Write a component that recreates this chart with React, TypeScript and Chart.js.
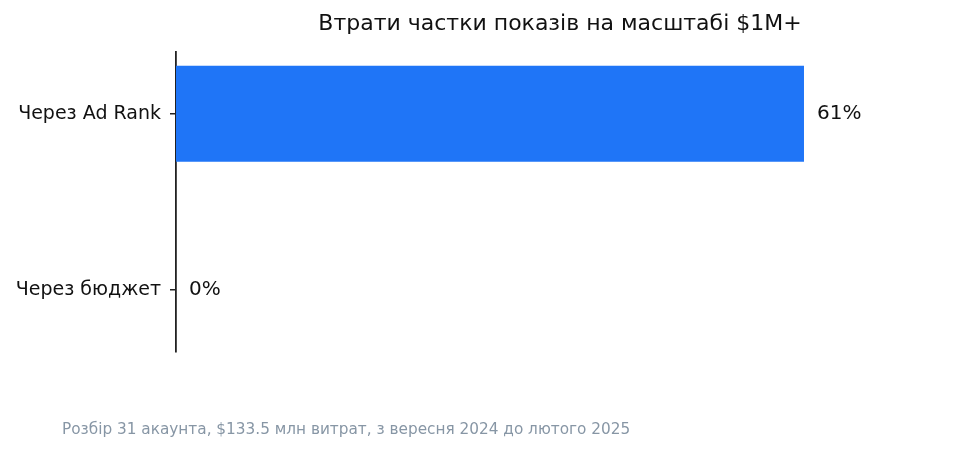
import { useEffect, useRef } from 'react';
import { Chart, registerables } from 'chart.js';

Chart.register(...registerables);

const categories = ['Через Ad Rank', 'Через бюджет'];
const lossShare = [61, 0];
const valueLabels = ['61%', '0%'];
const titleText = 'Втрати частки показів на масштабі $1M+';
const footnoteText = 'Розбір 31 акаунта, $133.5 млн витрат, з вересня 2024 до лютого 2025';

const FONT = '"DejaVu Sans", sans-serif';

const textPlugin = {
  id: 'textPlugin',
  afterDraw(chart: any) {
    const { ctx, chartArea } = chart;
    ctx.save();
    // title over the plot area
    ctx.font = `22px ${FONT}`;
    ctx.fillStyle = '#111111';
    ctx.textAlign = 'center';
    ctx.textBaseline = 'middle';
    ctx.fillText(titleText, (chartArea.left + chartArea.right) / 2, 24);

    // bar value labels
    const meta = chart.getDatasetMeta(0);
    ctx.font = `20px ${FONT}`;
    ctx.textAlign = 'left';
    meta.data.forEach((bar: any, i: number) => {
      ctx.fillText(valueLabels[i], bar.x + 13, bar.y);
    });

    // footnote
    ctx.font = `15.3px ${FONT}`;
    ctx.fillStyle = '#8796a5';
    ctx.fillText(footnoteText, 62, 430);
    ctx.restore();
  },
};

const App = () => {
  const canvasRef = useRef(null as HTMLCanvasElement | null);
  const chartRef = useRef(null as any);

  useEffect(() => {
    if (!canvasRef.current) return;
    const ctx = canvasRef.current.getContext('2d');
    if (!ctx) return;
    if (chartRef.current) chartRef.current.destroy();

    chartRef.current = new Chart(ctx, {
      type: 'bar',
      data: {
        datasets: [{
          data: lossShare.map((v, i) => ({ x: v, y: i })),
          backgroundColor: '#1f75f7',
          borderWidth: 0,
          categoryPercentage: 1,
          barPercentage: 0.545,
        }],
      },
      options: {
        indexAxis: 'y',
        responsive: true,
        maintainAspectRatio: false,
        animation: false,
        layout: { padding: { top: 52, bottom: 101, right: 13, left: 0 } },
        plugins: {
          legend: { display: false },
          tooltip: { enabled: false },
        },
        scales: {
          x: {
            type: 'linear',
            display: false,
            min: 0,
            max: 74.6,
          },
          y: {
            type: 'linear',
            min: -0.35,
            max: 1.35,
            reverse: true,
            offset: false,
            afterBuildTicks: (scale: any) => {
              scale.ticks = categories.map((_, i) => ({ value: i }));
            },
            afterFit: (scale: any) => {
              scale.width = 176;
            },
            grid: {
              offset: false,
              drawOnChartArea: false,
              drawTicks: true,
              tickLength: 6,
              color: '#222222',
              lineWidth: 1.5,
            },
            border: { display: true, color: '#222222', width: 1.8 },
            ticks: {
              padding: 9,
              color: '#111111',
              font: { family: FONT, size: 19 },
              callback: (value: any) => categories[value] ?? '',
            },
          },
        },
      },
      plugins: [textPlugin],
    });

    return () => {
      if (chartRef.current) {
        chartRef.current.destroy();
        chartRef.current = null;
      }
    };
  }, []);

  return (
    <div style={{ position: 'absolute', left: 0, top: 0, width: 957, height: 453, background: '#ffffff' }}>
      <canvas ref={canvasRef} />
    </div>
  );
};

export default App;
